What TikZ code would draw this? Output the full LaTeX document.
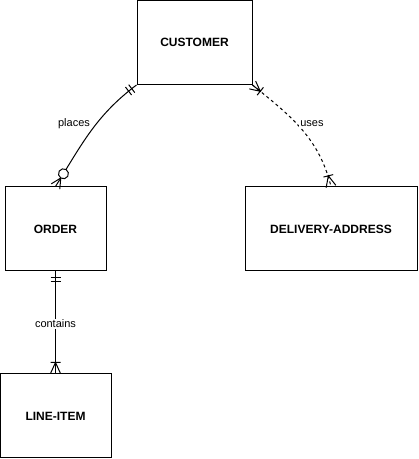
\documentclass[tikz,border=0pt]{standalone}
\usepackage{fontspec}
\setmainfont{Liberation Sans}
\usetikzlibrary{decorations.markings}

\tikzset{
  entity/.style={draw, line width=1pt, minimum height=84pt, inner sep=0pt,
    font=\fontsize{12}{14}\selectfont\bfseries},
  rel/.style={fill=white, inner sep=1pt, font=\fontsize{11}{13}\selectfont},
  % ends of the relationship lines
  mandone start/.style={postaction={decorate, decoration={markings,
    mark=at position 0 with {\draw[solid] (6pt,-5pt) -- (6pt,5pt) (10pt,-5pt) -- (10pt,5pt);}}}},
  mandone end/.style={postaction={decorate, decoration={markings,
    mark=at position 1 with {\draw[solid] (-6pt,-5pt) -- (-6pt,5pt) (-10pt,-5pt) -- (-10pt,5pt);}}}},
  onemany start/.style={postaction={decorate, decoration={markings,
    mark=at position 0 with {\draw[solid] (0pt,-5pt) -- (10pt,0pt) -- (0pt,5pt) (0pt,0pt) -- (10pt,0pt)
      (10pt,-5pt) -- (10pt,5pt);}}}},
  onemany end/.style={postaction={decorate, decoration={markings,
    mark=at position 1 with {\draw[solid] (0pt,-5pt) -- (-11pt,0pt) -- (0pt,5pt)
      (-11pt,-5pt) -- (-11pt,5pt);}}}},
  zeromany end/.style={postaction={decorate, decoration={markings,
    mark=at position 1 with {\draw[solid] (0pt,-5pt) -- (-10pt,0pt) -- (0pt,5pt);
      \draw[solid, fill=white] (-15pt,0pt) circle (5pt);}}}},
}

\begin{document}
\begin{tikzpicture}[x=1pt, y=1pt, line width=1pt]
    \useasboundingbox (0,0) rectangle (419,459);
    % entities
    \node[entity, minimum width=115pt] (customer) at (194.5,416.5) {CUSTOMER};
    \node[entity, minimum width=101pt] (order) at (55.5,230) {ORDER};
    \node[entity, minimum width=172pt] (delivery) at (331,230) {DELIVERY-ADDRESS};
    \node[entity, minimum width=111pt] (lineitem) at (55.5,43) {LINE-ITEM};
    % customer places order
    \draw[mandone start, zeromany end] (customer.south west) to[out=217, in=58] (order.north);
    \node[rel] (places) at (74,335) {places};
    % customer uses delivery address
    \draw[dashed, onemany start, onemany end] (customer.south east) to[out=-39, in=104] (delivery.north);
    \node[rel] (uses) at (312,335) {uses};
    % order contains line items
    \draw[mandone start, onemany end] (order.south) -- (lineitem.north);
    \node[rel] (contains) at (55.5,135) {contains};
\end{tikzpicture}
\end{document}
